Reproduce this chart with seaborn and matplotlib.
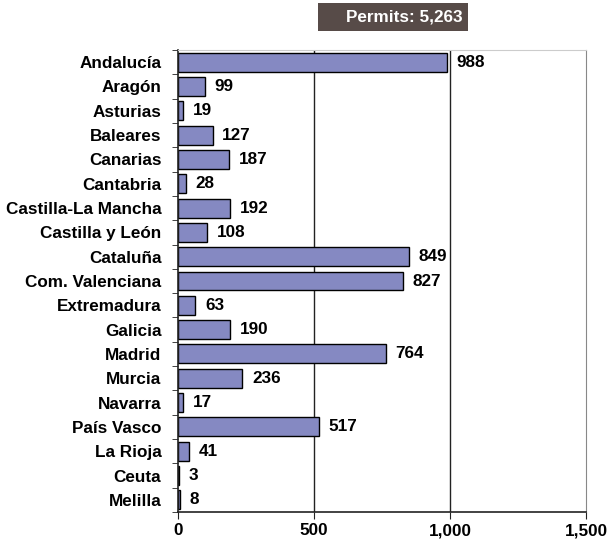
import numpy as np
import pandas as pd
import matplotlib
matplotlib.use("Agg")
import matplotlib.pyplot as plt
from matplotlib.patches import Rectangle
import seaborn as sns

regions = ["Andalucía", "Aragón", "Asturias", "Baleares", "Canarias", "Cantabria",
           "Castilla-La Mancha", "Castilla y León", "Cataluña", "Com. Valenciana",
           "Extremadura", "Galicia", "Madrid", "Murcia", "Navarra", "País Vasco",
           "La Rioja", "Ceuta", "Melilla"]
permits = [988, 99, 19, 127, 187, 28, 192, 108, 849, 827, 63, 190, 764, 236, 17, 517, 41, 3, 8]
x_ticks = [0, 500, 1000, 1500]
x_labels = ["0", "500", "1,000", "1,500"]
title = "Permits: 5,263"

df = pd.DataFrame({"region": regions, "permits": permits})

sns.set_style("white")
plt.rcParams["font.family"] = ["Liberation Sans", "DejaVu Sans"]
fs = 12.3

fig = plt.figure(figsize=(6.08, 5.4), dpi=100)
ax = fig.add_axes([178 / 608, 28 / 540, 408 / 608, 462 / 540])

sns.barplot(data=df, x="permits", y="region", orient="h", color="#8589c2",
            saturation=1, edgecolor="black", linewidth=1.0, width=0.78, ax=ax)

ax.set_xlim(0, 1500)
ax.set_ylim(len(regions) - 0.5, -0.5)
ax.set_xticks(x_ticks)
ax.set_xticklabels(x_labels, fontweight="bold", fontsize=fs, color="black")
ax.set_yticks(range(len(regions)))
ax.set_yticklabels(regions, fontweight="bold", fontsize=fs, color="black")
ax.set_yticks(np.arange(-0.5, len(regions), 1), minor=True)
ax.tick_params(axis="y", which="major", length=0, pad=12)
ax.tick_params(axis="y", which="minor", length=4, direction="out", color="#222222", left=True)
ax.tick_params(axis="x", length=5, direction="out", color="#222222", bottom=True, pad=3)
ax.set_xlabel("")
ax.set_ylabel("")

for v in [500, 1000]:
    ax.axvline(v, color="#222222", lw=1.0, zorder=0)

for side in ["left", "bottom"]:
    ax.spines[side].set_color("#222222")
    ax.spines[side].set_linewidth(1.2)
ax.spines["right"].set_color("#888888")
ax.spines["top"].set_color("#cccccc")

for i, v in enumerate(permits):
    ax.text(v + 36, i, str(v), va="center", ha="left", fontweight="bold",
            fontsize=fs, color="black")

fig.patches.append(Rectangle((318 / 608, 1 - 31 / 540), 150 / 608, 28 / 540,
                             transform=fig.transFigure, facecolor="#574b48",
                             edgecolor="none"))
fig.text(404 / 608, 1 - 17 / 540, title, ha="center", va="center", color="white",
         fontweight="bold", fontsize=fs)

fig.savefig("out.png", dpi=100)
